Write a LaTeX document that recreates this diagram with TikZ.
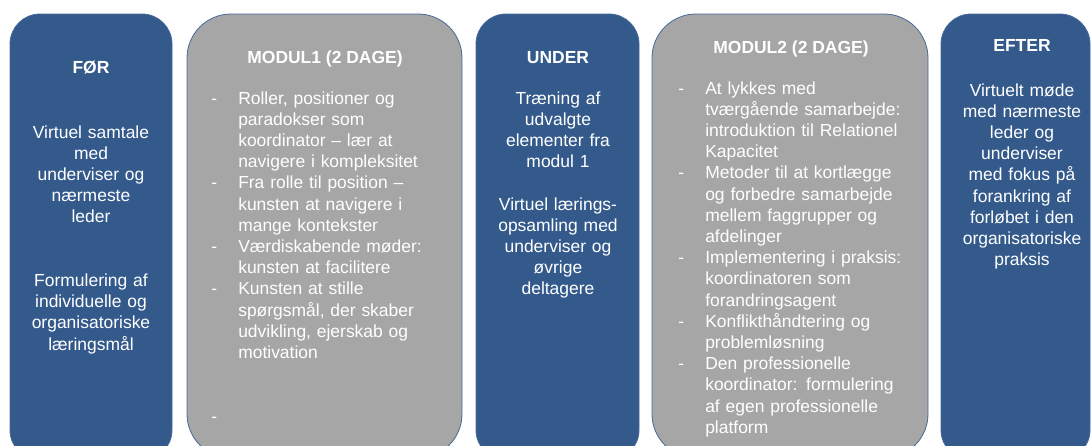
\documentclass[tikz,border=0pt]{standalone}
\usepackage{fontspec}
\setmainfont{Liberation Sans}

\definecolor{boxblue}{RGB}{52,90,140}
\definecolor{boxgray}{RGB}{166,166,166}
\definecolor{edgeblue}{RGB}{70,104,152}

\newcommand{\itemdash}{\makebox[20.25pt][l]{-}}
\newcommand{\itemgap}{\hspace*{20.25pt}}

\tikzset{
  bluebox/.style={draw=edgeblue, fill=boxblue, line width=0.6pt, rounded corners=22.5pt},
  graybox/.style={draw=edgeblue, fill=boxgray, line width=0.6pt, rounded corners=33pt},
  boxtext/.style={text=white, inner sep=0pt, font=\fontsize{13.1}{15.9}\selectfont},
  boxtitle/.style={boxtext, font=\fontsize{13.1}{15.9}\selectfont\bfseries, anchor=base},
  centertext/.style={boxtext, align=center, anchor=base, text width=112pt},
  listtext/.style={boxtext, align=left, anchor=base west, text width=185pt},
}

\begin{document}
\begin{tikzpicture}[x=0.75pt,y=0.75pt,yscale=-1]

\useasboundingbox (0,0) rectangle (1092,446);
\clip (0,0) rectangle (1092,446);

%Shape: Rounded Rectangle
\draw [bluebox] (10,14) rectangle (172,460);
%Shape: Rounded Rectangle
\draw [graybox] (187,14) rectangle (462,458);
%Shape: Rounded Rectangle
\draw [bluebox] (476,14) rectangle (639,460);
%Shape: Rounded Rectangle
\draw [graybox] (652,14) rectangle (928,458);
%Shape: Rounded Rectangle
\draw [bluebox] (941,14) rectangle (1090,460);

% Text Node
\node [boxtitle] (forTitle) at (91,73) {FØR};
% Text Node
\node [centertext] (forText) at (91,138) {Virtuel samtale\\ med\\ underviser og\\ nærmeste\\ leder\\ \mbox{}\\ \mbox{}\\ Formulering af\\ individuelle og\\ organisatoriske\\ læringsmål};

% Text Node
\node [boxtitle] (modulOneTitle) at (325,63) {MODUL1 (2 DAGE)};
% Text Node
\node [listtext] (modulOneText) at (211,104) {\itemdash Roller, positioner og\\ \itemgap paradokser som\\ \itemgap koordinator – lær at\\ \itemgap navigere i kompleksitet\\ \itemdash Fra rolle til position –\\ \itemgap kunsten at navigere i\\ \itemgap mange kontekster\\ \itemdash Værdiskabende møder:\\ \itemgap kunsten at facilitere\\ \itemdash Kunsten at stille\\ \itemgap spørgsmål, der skaber\\ \itemgap udvikling, ejerskab og\\ \itemgap motivation\\ \mbox{}\\ \mbox{}\\ \itemdash};

% Text Node
\node [boxtitle] (underTitle) at (558,63) {UNDER};
% Text Node
\node [centertext] (underText) at (558,104) {Træning af\\ udvalgte\\ elementer fra\\ modul 1\\ \mbox{}\\ Virtuel lærings-\\ opsamling med\\ underviser og\\ øvrige\\ deltagere};

% Text Node
\node [boxtitle] (modulTwoTitle) at (791,53) {MODUL2 (2 DAGE)};
% Text Node
\node [listtext] (modulTwoText) at (678,94) {\itemdash At lykkes med\\ \itemgap tværgående samarbejde:\\ \itemgap introduktion til Relationel\\ \itemgap Kapacitet\\ \itemdash Metoder til at kortlægge\\ \itemgap og forbedre samarbejde\\ \itemgap mellem faggrupper og\\ \itemgap afdelinger\\ \itemdash Implementering i praksis:\\ \itemgap koordinatoren som\\ \itemgap forandringsagent\\ \itemdash Konflikthåndtering og\\ \itemgap problemløsning\\ \itemdash Den professionelle\\ \itemgap koordinator: formulering\\ \itemgap af egen professionelle\\ \itemgap platform};

% Text Node
\node [boxtitle] (efterTitle) at (1022,51) {EFTER};
% Text Node
\node [centertext] (efterText) at (1022,96) {Virtuelt møde\\ med nærmeste\\ leder og\\ underviser\\ med fokus på\\ forankring af\\ forløbet i den\\ organisatoriske\\ praksis};

\end{tikzpicture}
\end{document}
